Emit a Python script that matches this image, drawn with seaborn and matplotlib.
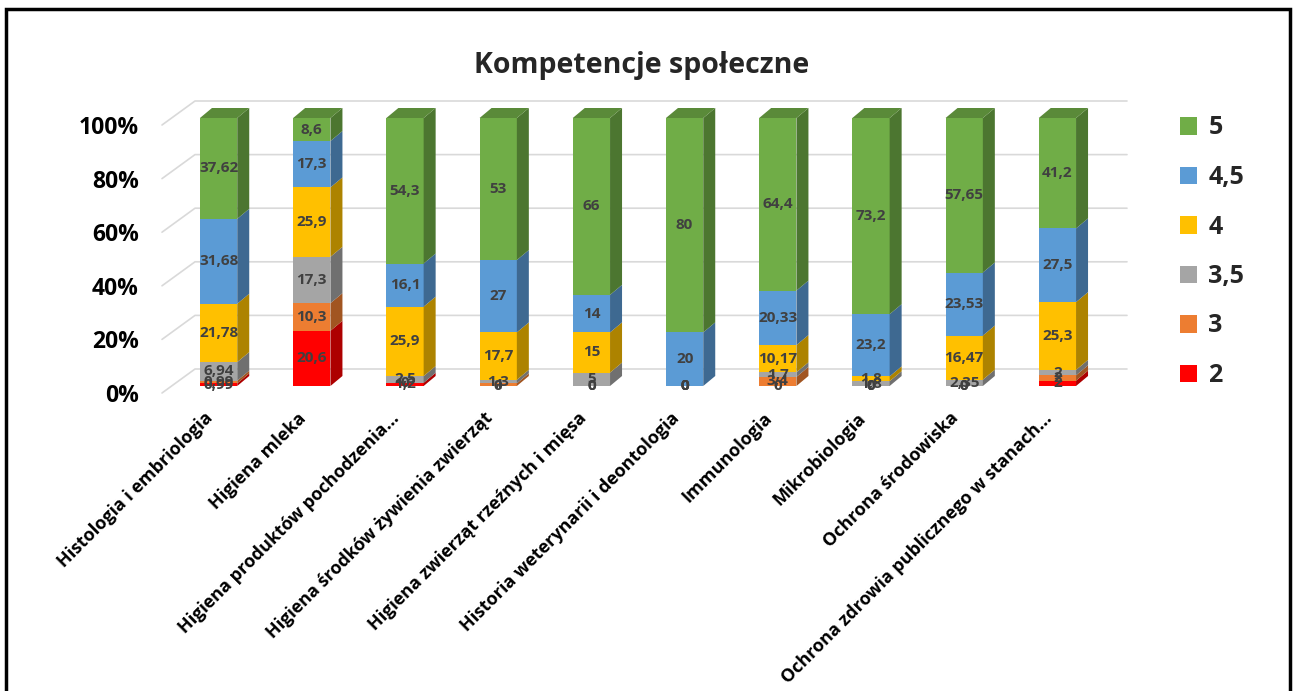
import numpy as np
import matplotlib
matplotlib.use("Agg")
import matplotlib.pyplot as plt
from matplotlib.patches import Polygon, Patch, Rectangle
from matplotlib.transforms import ScaledTranslation
import matplotlib.colors as mcolors
import seaborn as sns

sns.set_style("white")
plt.rcParams['font.family'] = ['Open Sans', 'DejaVu Sans']

categories = ["Histologia i embriologia", "Higiena mleka", "Higiena produktów pochodzenia...",
              "Higiena środków żywienia zwierząt", "Higiena zwierząt rzeźnych i mięsa",
              "Historia weterynarii i deontologia", "Immunologia", "Mikrobiologia",
              "Ochrona środowiska", "Ochrona zdrowia publicznego w stanach..."]
s_2 = [0.99, 20.6, 1.2, 0, 0, 0, 0, 0, 0, 2]
s_3 = [0.99, 10.3, 0, 1, 0, 0, 3.4, 0, 0, 2]
s_35 = [6.94, 17.3, 2.5, 1.3, 5, 0, 1.7, 1.8, 2.35, 2]
s_4 = [21.78, 25.9, 25.9, 17.7, 15, 0, 10.17, 1.8, 16.47, 25.3]
s_45 = [31.68, 17.3, 16.1, 27, 14, 20, 20.33, 23.2, 23.53, 27.5]
s_5 = [37.62, 8.6, 54.3, 53, 66, 80, 64.4, 73.2, 57.65, 41.2]
series_names = ["2", "3", "3,5", "4", "4,5", "5"]
series_vals = [s_2, s_3, s_35, s_4, s_45, s_5]
series_colors = ["#FF0000", "#ED7D31", "#A5A5A5", "#FFC000", "#5B9BD5", "#70AD47"]
y_ticks = [0, 20, 40, 60, 80, 100]
y_tick_labels = ["0%", "20%", "40%", "60%", "80%", "100%"]
title = "Kompetencje społeczne"

W, H = 1296, 691
fig = plt.figure(figsize=(W / 100, H / 100), dpi=100)
ax = fig.add_axes([172 / W, 1 - 386 / H, 932 / W, 268 / H])

vals = np.array(series_vals, dtype=float)
cum = np.cumsum(vals, axis=0)
n = len(categories)
bar_w = 0.40

# depth of 3D effect in data units
px_x = 93.2  # px per category
px_y = 2.68  # px per percent
ddx, ddy = 12 / px_x, 10 / px_y

# gridlines (front plane and back wall)
fx, fy = -10 / px_x, -7 / px_y
bx, by = 23 / px_x, 17 / px_y
for v in y_ticks:
    ax.plot([-0.5 + fx, -0.5 + bx, n - 0.5 + bx], [v + fy, v + by, v + by],
            color="#d9d9d9", lw=1.2, zorder=0, clip_on=False)

# stacked bars: draw cumulative totals from top series down
for k in range(len(series_names) - 1, -1, -1):
    sns.barplot(x=categories, y=cum[k], color=series_colors[k], saturation=1,
                width=bar_w, ax=ax, zorder=2, linewidth=0)

def darker(c, f):
    r, g, b = mcolors.to_rgb(c)
    return (r * f, g * f, b * f)

for i in range(n):
    x0 = i - bar_w / 2
    x1 = i + bar_w / 2
    for k in range(len(series_names)):
        lo = cum[k - 1][i] if k > 0 else 0.0
        hi = cum[k][i]
        if hi - lo > 0:
            side = Polygon([(x1, lo), (x1 + ddx, lo + ddy), (x1 + ddx, hi + ddy), (x1, hi)],
                           closed=True, facecolor=darker(series_colors[k], 0.68),
                           edgecolor="none", zorder=3, clip_on=False)
            ax.add_patch(side)
    top = cum[-1][i]
    kt = max(k for k in range(len(series_names)) if vals[k][i] > 0)
    topface = Polygon([(x0, top), (x0 + ddx, top + ddy), (x1 + ddx, top + ddy), (x1, top)],
                      closed=True, facecolor=darker(series_colors[kt], 0.8),
                      edgecolor="none", zorder=3, clip_on=False)
    ax.add_patch(topface)

def fmt(v):
    s = f"{v:.2f}".rstrip('0').rstrip('.')
    return s.replace('.', ',')

for i in range(n):
    for k in range(len(series_names)):
        lo = cum[k - 1][i] if k > 0 else 0.0
        v = vals[k][i]
        ax.text(i, lo + v / 2, fmt(v), ha="center", va="center", fontsize=11,
                fontweight="bold", color="#404040", zorder=5, clip_on=False)

ax.set_xlim(-0.5, n - 0.5)
ax.set_ylim(0, 100)
ax.set_xlabel("")
ax.set_ylabel("")
for s in ax.spines.values():
    s.set_visible(False)
ax.set_yticks(y_ticks)
ax.set_yticklabels(y_tick_labels, fontsize=16.5, fontweight="bold", color="black")
ax.tick_params(axis="y", length=0, pad=24)
ax.set_xticks(range(n))
ax.set_xticklabels(categories, rotation=45, ha="right", va="center",
                   rotation_mode="anchor", fontsize=13, fontweight="bold", color="black")
ax.tick_params(axis="x", length=0, pad=22)
for lab in ax.get_yticklabels():
    lab.set_transform(lab.get_transform() + ScaledTranslation(0, -7 / 100, fig.dpi_scale_trans))
for lab in ax.get_xticklabels():
    lab.set_transform(lab.get_transform() + ScaledTranslation(-8 / 100, 1 / 100, fig.dpi_scale_trans))
ax.set_facecolor("none")
ax.grid(False)

handles = [Patch(facecolor=series_colors[k], edgecolor="none") for k in range(len(series_names) - 1, -1, -1)]
labels = [series_names[k] for k in range(len(series_names) - 1, -1, -1)]
fig.legend(handles, labels, loc="upper left", bbox_to_anchor=(1157 / W, 1 - 93 / H),
           frameon=False, prop={"size": 18, "weight": "bold"}, labelspacing=0.98,
           handlelength=0.7, handleheight=0.7, handletextpad=0.45)

fig.text(642 / W, 1 - 65 / H, title, ha="center", va="center", fontsize=20.5, fontweight="bold")

fig.patches.append(Rectangle((6 / W, -0.02), (1290 - 6) / W, 1 - 9 / H + 0.02,
                             transform=fig.transFigure, fill=False, edgecolor="black",
                             lw=2.5, zorder=10))

fig.savefig("out.png", dpi=100, facecolor="white")
